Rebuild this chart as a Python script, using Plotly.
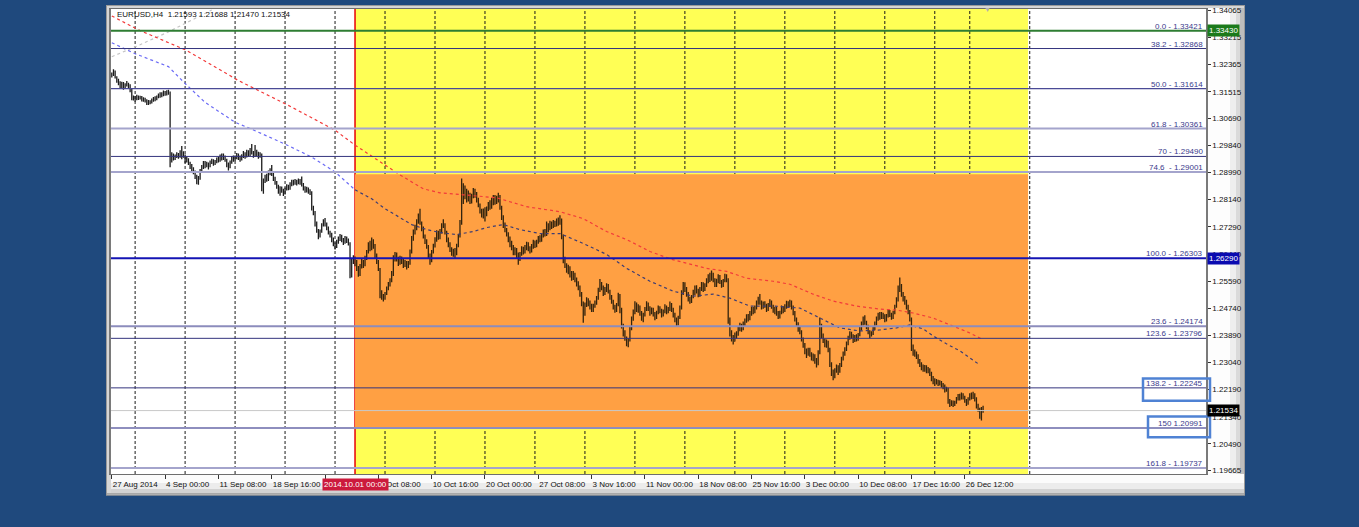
import plotly.graph_objects as go

# ---------------- DATA: EURUSD H4 (price = 1 + pips / 10000) ----------------
first_open = 3200
close_pips = [
    3205, 3215, 3198, 3188, 3180, 3170, 3178, 3165, 3172, 3176, 3168, 3160,
    3130, 3133, 3128, 3136, 3131, 3134, 3126, 3130, 3124, 3115, 3122, 3118,
    3124, 3132, 3127, 3135, 3138, 3144, 3140, 3148, 3145, 3150, 3146, 2945,
    2950, 2942, 2948, 2955, 2950, 2962, 2958, 2950, 2935, 2940, 2928, 2918,
    2910, 2900, 2888, 2870, 2880, 2902, 2915, 2928, 2920, 2926, 2918, 2930,
    2935, 2928, 2932, 2940, 2935, 2948, 2942, 2950, 2938, 2925, 2918, 2930,
    2945, 2938, 2945, 2952, 2946, 2940, 2950, 2958, 2950, 2962, 2955, 2968,
    2960, 2952, 2966, 2958, 2950, 2956, 2855, 2872, 2885, 2878, 2898, 2905,
    2895, 2880, 2868, 2855, 2840, 2850, 2842, 2836, 2848, 2856, 2850, 2862,
    2870, 2864, 2872, 2866, 2874, 2868, 2862, 2850, 2842, 2848, 2840, 2836,
    2790, 2775, 2740, 2718, 2700, 2715, 2735, 2745, 2738, 2725, 2712, 2705,
    2690, 2675, 2668, 2682, 2690, 2700, 2688, 2682, 2692, 2686, 2678, 2580,
    2622, 2630, 2618, 2600, 2585, 2605, 2620, 2612, 2630, 2650, 2672, 2660,
    2680, 2670, 2640, 2620, 2598, 2520, 2510, 2505, 2520, 2535, 2548, 2560,
    2580, 2630, 2645, 2628, 2615, 2630, 2622, 2610, 2618, 2605, 2615, 2650,
    2690, 2712, 2725, 2745, 2760, 2740, 2725, 2700, 2685, 2668, 2640, 2625,
    2650, 2670, 2690, 2710, 2695, 2715, 2730, 2735, 2712, 2690, 2675, 2660,
    2648, 2655, 2645, 2670, 2700, 2740, 2810, 2825, 2840, 2815, 2830, 2808,
    2825, 2840, 2830, 2815, 2798, 2780, 2768, 2778, 2770, 2785, 2800, 2790,
    2812, 2805, 2820, 2812, 2825, 2790, 2760, 2735, 2720, 2705, 2690, 2680,
    2665, 2650, 2660, 2640, 2628, 2645, 2660, 2650, 2665, 2675, 2660, 2652,
    2668, 2680, 2672, 2682, 2695, 2688, 2700, 2712, 2705, 2730, 2722, 2738,
    2730, 2742, 2735, 2748, 2740, 2752, 2700, 2630, 2610, 2595, 2600, 2580,
    2570, 2582, 2565, 2550, 2540, 2520, 2490, 2470, 2485, 2500, 2492, 2480,
    2470, 2482, 2490, 2505, 2530, 2550, 2538, 2520, 2530, 2545, 2528, 2510,
    2495, 2480, 2468, 2485, 2515, 2470, 2420, 2400, 2380, 2365, 2375, 2410,
    2440, 2462, 2485, 2470, 2478, 2458, 2442, 2455, 2470, 2488, 2475, 2460,
    2470, 2458, 2445, 2460, 2475, 2468, 2455, 2462, 2478, 2465, 2472, 2485,
    2470, 2455, 2440, 2425, 2445, 2475, 2520, 2545, 2535, 2520, 2505, 2495,
    2510, 2525, 2540, 2530, 2515, 2535, 2550, 2535, 2545, 2560, 2575, 2565,
    2580, 2562, 2548, 2560, 2572, 2558, 2545, 2560, 2575, 2562, 2440, 2400,
    2380, 2370, 2385, 2395, 2410, 2420, 2408, 2425, 2435, 2448, 2440, 2458,
    2470, 2462, 2475, 2490, 2500, 2492, 2478, 2490, 2482, 2470, 2485, 2495,
    2480, 2465, 2472, 2460, 2448, 2460, 2475, 2468, 2480, 2490, 2482, 2495,
    2478, 2460, 2440, 2425, 2410, 2400, 2378, 2360, 2340, 2330, 2345, 2330,
    2318, 2325, 2310, 2300, 2335, 2420, 2390, 2372, 2360, 2370, 2345, 2300,
    2275, 2265, 2280, 2290, 2278, 2295, 2315, 2330, 2345, 2362, 2380, 2395,
    2385, 2372, 2385, 2378, 2390, 2408, 2425, 2440, 2430, 2418, 2400, 2390,
    2395, 2410, 2425, 2440, 2452, 2445, 2455, 2448, 2438, 2450, 2462, 2455,
    2445, 2460, 2478, 2500, 2530, 2545, 2520, 2505, 2495, 2480, 2462, 2440,
    2350, 2340, 2332, 2325, 2310, 2300, 2292, 2285, 2290, 2278, 2282, 2270,
    2255, 2248, 2240, 2245, 2238, 2242, 2235, 2228, 2218, 2222, 2185, 2175,
    2180, 2172, 2178, 2190, 2200, 2192, 2205, 2195, 2185, 2175, 2190, 2202,
    2196, 2205, 2190, 2170, 2158, 2140, 2159.3, 2153.4,
]
high_pips = [
    3212, 3222, 3218, 3200, 3192, 3184, 3183, 3182, 3178, 3185, 3180, 3175,
    3148, 3140, 3138, 3142, 3140, 3139, 3138, 3134, 3133, 3128, 3126, 3125,
    3130, 3135, 3137, 3140, 3146, 3150, 3150, 3155, 3154, 3156, 3158, 3152,
    2962, 2958, 2955, 2962, 2960, 2968, 2982, 2965, 2955, 2948, 2943, 2932,
    2925, 2915, 2905, 2892, 2888, 2910, 2922, 2935, 2935, 2932, 2930, 2936,
    2942, 2940, 2938, 2946, 2948, 2955, 2958, 2958, 2952, 2942, 2930, 2936,
    2950, 2952, 2952, 2960, 2958, 2952, 2956, 2966, 2962, 2970, 2968, 2975,
    2988, 2966, 2985, 2970, 2964, 2962, 2958, 2880, 2892, 2895, 2905, 2912,
    2922, 2900, 2885, 2872, 2860, 2856, 2855, 2848, 2852, 2862, 2860, 2868,
    2876, 2876, 2878, 2876, 2880, 2878, 2886, 2866, 2856, 2854, 2852, 2846,
    2840, 2795, 2778, 2745, 2722, 2720, 2740, 2752, 2756, 2742, 2730, 2716,
    2710, 2695, 2680, 2688, 2698, 2706, 2704, 2694, 2700, 2698, 2692, 2680,
    2628, 2640, 2636, 2625, 2606, 2612, 2628, 2625, 2638, 2656, 2680, 2685,
    2695, 2690, 2675, 2645, 2625, 2600, 2530, 2518, 2525, 2542, 2556, 2568,
    2590, 2640, 2650, 2648, 2635, 2638, 2636, 2628, 2625, 2622, 2622, 2658,
    2700, 2720, 2735, 2752, 2770, 2785, 2745, 2730, 2705, 2690, 2672, 2645,
    2656, 2676, 2696, 2718, 2716, 2722, 2740, 2752, 2740, 2716, 2695, 2680,
    2665, 2660, 2662, 2676, 2706, 2750, 2880, 2865, 2858, 2848, 2842, 2835,
    2832, 2850, 2848, 2838, 2820, 2802, 2785, 2786, 2790, 2792, 2806, 2812,
    2820, 2828, 2828, 2826, 2835, 2828, 2795, 2765, 2742, 2725, 2712, 2698,
    2685, 2672, 2665, 2662, 2648, 2650, 2668, 2666, 2672, 2682, 2680, 2668,
    2675, 2688, 2686, 2688, 2700, 2702, 2708, 2720, 2722, 2745, 2740, 2748,
    2745, 2750, 2748, 2755, 2758, 2765, 2755, 2705, 2635, 2615, 2610, 2605,
    2590, 2590, 2585, 2570, 2558, 2545, 2525, 2495, 2492, 2508, 2505, 2498,
    2488, 2488, 2498, 2512, 2538, 2565, 2556, 2545, 2540, 2552, 2550, 2532,
    2515, 2500, 2485, 2490, 2522, 2518, 2475, 2425, 2405, 2385, 2380, 2418,
    2448, 2470, 2496, 2492, 2486, 2482, 2465, 2460, 2478, 2496, 2492, 2480,
    2476, 2475, 2462, 2466, 2482, 2480, 2472, 2470, 2486, 2482, 2478, 2495,
    2490, 2475, 2460, 2445, 2450, 2482, 2530, 2556, 2555, 2540, 2525, 2510,
    2515, 2532, 2545, 2546, 2535, 2540, 2556, 2555, 2552, 2568, 2580, 2585,
    2592, 2585, 2568, 2566, 2580, 2578, 2562, 2565, 2582, 2580, 2568, 2445,
    2405, 2390, 2398, 2402, 2418, 2428, 2425, 2432, 2442, 2455, 2456, 2465,
    2478, 2478, 2482, 2498, 2510, 2518, 2498, 2495, 2496, 2488, 2490, 2502,
    2498, 2485, 2478, 2478, 2465, 2466, 2482, 2480, 2486, 2497, 2496, 2500,
    2498, 2482, 2465, 2445, 2430, 2415, 2405, 2382, 2365, 2348, 2350, 2350,
    2336, 2332, 2330, 2318, 2342, 2445, 2425, 2395, 2378, 2376, 2372, 2350,
    2305, 2282, 2286, 2298, 2295, 2302, 2322, 2338, 2352, 2370, 2388, 2402,
    2400, 2392, 2390, 2392, 2396, 2415, 2432, 2448, 2452, 2435, 2422, 2405,
    2402, 2416, 2432, 2448, 2460, 2462, 2462, 2460, 2455, 2456, 2470, 2468,
    2460, 2466, 2485, 2508, 2545, 2570, 2550, 2525, 2512, 2500, 2485, 2468,
    2445, 2360, 2345, 2338, 2330, 2315, 2305, 2298, 2296, 2295, 2290, 2286,
    2275, 2262, 2255, 2252, 2250, 2248, 2246, 2240, 2235, 2228, 2225, 2190,
    2186, 2185, 2184, 2196, 2205, 2206, 2210, 2208, 2200, 2190, 2195, 2208,
    2210, 2212, 2208, 2195, 2175, 2162, 2165, 2168.8,
]
low_pips = [
    3196, 3201, 3193, 3180, 3172, 3163, 3160, 3158, 3161, 3168, 3160, 3150,
    3125, 3124, 3120, 3125, 3126, 3127, 3121, 3120, 3118, 3110, 3110, 3112,
    3115, 3120, 3122, 3125, 3131, 3133, 3134, 3137, 3139, 3140, 3142, 2915,
    2930, 2936, 2938, 2944, 2942, 2945, 2940, 2945, 2928, 2930, 2922, 2910,
    2902, 2893, 2878, 2862, 2860, 2876, 2898, 2910, 2912, 2915, 2908, 2915,
    2925, 2920, 2922, 2928, 2930, 2932, 2936, 2938, 2932, 2915, 2905, 2912,
    2926, 2932, 2934, 2940, 2938, 2932, 2936, 2944, 2942, 2946, 2948, 2950,
    2955, 2945, 2948, 2950, 2942, 2945, 2840, 2832, 2866, 2870, 2872, 2890,
    2888, 2872, 2860, 2848, 2832, 2826, 2835, 2825, 2830, 2842, 2843, 2845,
    2856, 2858, 2860, 2858, 2862, 2860, 2855, 2842, 2835, 2836, 2832, 2828,
    2780, 2765, 2730, 2710, 2690, 2695, 2710, 2730, 2730, 2718, 2705, 2695,
    2680, 2668, 2658, 2662, 2676, 2684, 2680, 2672, 2676, 2678, 2670, 2568,
    2570, 2612, 2605, 2590, 2572, 2575, 2598, 2600, 2605, 2625, 2645, 2652,
    2655, 2660, 2630, 2612, 2590, 2505, 2500, 2495, 2500, 2515, 2530, 2542,
    2555, 2575, 2620, 2620, 2606, 2610, 2612, 2600, 2603, 2595, 2600, 2610,
    2645, 2685, 2705, 2718, 2738, 2735, 2715, 2692, 2675, 2660, 2630, 2610,
    2618, 2645, 2664, 2682, 2688, 2690, 2708, 2725, 2705, 2680, 2665, 2650,
    2638, 2635, 2630, 2640, 2665, 2695, 2735, 2800, 2815, 2805, 2808, 2800,
    2802, 2818, 2820, 2805, 2790, 2770, 2758, 2755, 2745, 2762, 2778, 2782,
    2785, 2796, 2798, 2800, 2805, 2782, 2750, 2725, 2712, 2698, 2680, 2665,
    2655, 2640, 2640, 2630, 2610, 2622, 2638, 2642, 2645, 2655, 2652, 2645,
    2648, 2660, 2662, 2665, 2676, 2680, 2682, 2695, 2698, 2700, 2712, 2718,
    2722, 2725, 2728, 2730, 2732, 2735, 2690, 2615, 2600, 2585, 2580, 2570,
    2560, 2562, 2555, 2542, 2530, 2510, 2480, 2428, 2450, 2478, 2480, 2470,
    2462, 2462, 2475, 2485, 2500, 2525, 2530, 2512, 2515, 2525, 2520, 2500,
    2488, 2470, 2460, 2462, 2480, 2458, 2410, 2385, 2372, 2355, 2352, 2370,
    2405, 2435, 2455, 2462, 2460, 2450, 2435, 2430, 2448, 2465, 2465, 2450,
    2455, 2448, 2436, 2440, 2455, 2458, 2445, 2448, 2458, 2455, 2458, 2465,
    2462, 2445, 2430, 2416, 2420, 2440, 2470, 2515, 2525, 2510, 2495, 2488,
    2490, 2505, 2515, 2520, 2508, 2510, 2528, 2525, 2528, 2540, 2552, 2556,
    2560, 2555, 2540, 2540, 2552, 2550, 2538, 2540, 2555, 2555, 2425, 2385,
    2370, 2360, 2372, 2378, 2388, 2402, 2400, 2405, 2418, 2428, 2432, 2436,
    2450, 2455, 2458, 2470, 2485, 2485, 2470, 2472, 2475, 2462, 2465, 2478,
    2472, 2460, 2455, 2450, 2440, 2442, 2455, 2458, 2462, 2472, 2475, 2478,
    2470, 2452, 2432, 2418, 2400, 2392, 2370, 2350, 2330, 2318, 2325, 2322,
    2310, 2308, 2300, 2288, 2295, 2330, 2380, 2365, 2352, 2350, 2336, 2290,
    2262, 2248, 2255, 2272, 2265, 2272, 2290, 2310, 2325, 2340, 2358, 2375,
    2378, 2365, 2368, 2370, 2372, 2386, 2404, 2420, 2422, 2408, 2392, 2380,
    2385, 2390, 2405, 2420, 2435, 2438, 2440, 2440, 2430, 2432, 2445, 2446,
    2438, 2440, 2455, 2475, 2495, 2525, 2510, 2495, 2485, 2470, 2455, 2432,
    2340, 2325, 2322, 2315, 2300, 2290, 2280, 2275, 2275, 2270, 2270, 2262,
    2245, 2236, 2230, 2235, 2230, 2232, 2226, 2220, 2210, 2212, 2175, 2165,
    2168, 2165, 2168, 2175, 2185, 2185, 2188, 2188, 2178, 2168, 2172, 2185,
    2188, 2190, 2182, 2160, 2150, 2128, 2122, 2147.0,
]

symbol = "EURUSD,H4"
split_bar = 146          # 2014.10.01 00:00 (vertical red line)
box_end_bar = 550        # right edge of yellow/orange rectangles

x_tick_bars = [0, 32, 64, 96, 128, 160, 192, 224, 256, 288, 320, 352, 384, 416, 448, 480, 512]
# the 26 Sep label is fully hidden under the red time marker in the reference
x_tick_labels = ["27 Aug 2014", "4 Sep 00:00", "11 Sep 08:00", "18 Sep 16:00", "",
                 "2 Oct 08:00", "10 Oct 16:00", "20 Oct 00:00", "27 Oct 08:00", "3 Nov 16:00",
                 "11 Nov 00:00", "18 Nov 08:00", "25 Nov 16:00", "3 Dec 00:00", "10 Dec 08:00",
                 "17 Dec 16:00", "26 Dec 12:00"]
grid_bars = [14, 44, 74, 104, 134, 164, 194, 224, 254, 284, 314, 344, 374, 404, 434, 464, 494, 515, 551]

y_tick_vals = [1.34065, 1.33215, 1.32365, 1.31515, 1.30690, 1.29840, 1.28990, 1.28140, 1.27290,
               1.26440, 1.25590, 1.24740, 1.23890, 1.23040, 1.22190, 1.21340, 1.20490, 1.19665]

fib_levels = [1.33421, 1.32868, 1.31614, 1.30361, 1.29490, 1.29001, 1.26303,
              1.24174, 1.23796, 1.22245, 1.20991, 1.19737]
fib_texts = ["0.0 - 1.33421", "38.2 - 1.32868", "50.0 - 1.31614", "61.8 - 1.30361",
             "70 - 1.29490", "74.6  - 1.29001", "100.0 - 1.26303", "23.6 - 1.24174",
             "123.6 - 1.23796", "138.2 - 1.22245", "150 1.20991", "161.8 - 1.19737"]
fib_colors = ["#2E7D32", "#34347E", "#4A4A96", "#A4A4CC", "#34347E", "#A4A4CC", "#1414B4",
              "#8C8CBC", "#34347E", "#34347E", "#8E8EBE", "#A4A4CC"]
fib_widths = [2, 1, 1.2, 2, 1, 2, 2, 2, 1, 1, 2, 2]

orange_top = 1.2893
bid_price = 1.21534
price_boxes = [(1.33430, "#1B7A1B"), (1.26290, "#0A0AB0"), (1.21534, "#000000")]
highlight_fib = [9, 10]              # 138.2 and 150 labels are boxed
highlight_pad = [(0.0040, 0.0029), (0.0029, 0.0036)]
highlight_left_px = [1143, 1148]

ma_red_bars = [0, 16, 44, 76, 106, 134, 146, 164, 173, 187, 197, 211, 231, 249, 269, 283, 297,
               309, 323, 336, 357, 369, 381, 397, 407, 421, 433, 447, 461, 471, 481, 493, 505, 515, 522]
ma_red_vals = [1.33888, 1.33452, 1.32830, 1.31866, 1.31088, 1.30311, 1.29844, 1.29222, 1.28911,
               1.28475, 1.28351, 1.28289, 1.28196, 1.27916, 1.27760, 1.27543, 1.27138, 1.26889,
               1.26516, 1.26267, 1.25987, 1.25894, 1.25676, 1.25583, 1.25490, 1.25178, 1.24961,
               1.24805, 1.24712, 1.24681, 1.24588, 1.24432, 1.24183, 1.23965, 1.23779]
ma_blue_bars = [0, 14, 34, 44, 56, 74, 84, 104, 120, 134, 146, 156, 164, 180, 189, 197, 207, 217,
                225, 235, 245, 257, 269, 283, 297, 309, 323, 337, 349, 361, 371, 383, 397, 413,
                425, 437, 449, 461, 471, 479, 487, 493, 501, 509, 521]
ma_blue_vals = [1.33048, 1.32706, 1.32301, 1.31772, 1.31182, 1.30559, 1.30342, 1.29875, 1.29471,
                1.29004, 1.28444, 1.28164, 1.27853, 1.27356, 1.27200, 1.27107, 1.27045, 1.27138,
                1.27263, 1.27356, 1.27200, 1.27076, 1.27076, 1.26765, 1.26423, 1.25988, 1.25583,
                1.25272, 1.25116, 1.25179, 1.25054, 1.24805, 1.24805, 1.24743, 1.24432, 1.24121,
                1.24027, 1.24059, 1.24121, 1.24214, 1.24090, 1.23872, 1.23623, 1.23405, 1.22966]
ma_grey_bars = [0, 17, 34, 47, 60]
ma_grey_vals = [1.32612, 1.32986, 1.33390, 1.33732, 1.34074]

# ---------------- geometry ----------------
W, H = 1359, 527
PL, PR, PT, PB = 111, 1206, 6, 474
X_RANGE = [-0.48, 656.8]
Y_RANGE = [1.19549, 1.34105]
FONT = "Liberation Sans"


def pxx(px):
    return (px - PL) / (PR - PL)


def pxy(py):
    return (PB - py) / (PB - PT)


def pyp(price):
    return (price - Y_RANGE[0]) / (Y_RANGE[1] - Y_RANGE[0])


# ---------------- build OHLC ----------------
n = len(close_pips)
idx = list(range(n))
close = [1 + v / 10000 for v in close_pips]
opens = [1 + first_open / 10000] + close[:-1]
high = [max(1 + h / 10000, o, c) for h, o, c in zip(high_pips, opens, close)]
low = [min(1 + l / 10000, o, c) for l, o, c in zip(low_pips, opens, close)]

fig = go.Figure()
for a, b, col in [(0, split_bar, "#1C1C1C"), (split_bar, n, "#33240E")]:
    fig.add_trace(go.Ohlc(
        x=idx[a:b], open=opens[a:b], high=high[a:b], low=low[a:b], close=close[a:b],
        increasing=dict(line=dict(color=col, width=1.3)),
        decreasing=dict(line=dict(color=col, width=1.3)),
        tickwidth=0.35, hoverinfo="skip", showlegend=False))

dash = "3px,3px"
fig.add_trace(go.Scatter(x=ma_grey_bars, y=ma_grey_vals, mode="lines", hoverinfo="skip",
                         line=dict(color="#C4C4C4", width=1.2, dash=dash), showlegend=False))
fig.add_trace(go.Scatter(x=ma_red_bars, y=ma_red_vals, mode="lines", hoverinfo="skip",
                         line=dict(color="#F23A3A", width=1.2, dash=dash), showlegend=False))
k = ma_blue_bars.index(split_bar)
fig.add_trace(go.Scatter(x=ma_blue_bars[:k + 1], y=ma_blue_vals[:k + 1], mode="lines",
                         hoverinfo="skip", line=dict(color="#6B6BF5", width=1.2, dash=dash),
                         showlegend=False))
fig.add_trace(go.Scatter(x=ma_blue_bars[k:], y=ma_blue_vals[k:], mode="lines",
                         hoverinfo="skip", line=dict(color="#3C3C74", width=1.2, dash=dash),
                         showlegend=False))

# ---------------- shapes ----------------
shapes = []


def prect(x0, y0, x1, y1, fill, layer="below"):
    shapes.append(dict(type="rect", xref="paper", yref="paper", x0=pxx(x0), x1=pxx(x1),
                       y0=pxy(y1), y1=pxy(y0), fillcolor=fill, line=dict(width=0), layer=layer))


# panel frame
prect(106, 2, 1245, 496, "#9A9A9A")
prect(107, 3, 1244, 495, "#D6D6D6")
prect(1206, 5, 1230, 474, "#FDFDFD")
prect(1230, 5, 1236, 474, "#EEEEEE")
prect(1236, 5, 1240, 474, "#DADADA")
prect(1240, 5, 1244, 474, "#BDBDBD")
prect(111, 474, 1244, 483, "#FBFBFB")
prect(111, 483, 1244, 489, "#ECECEC")
prect(111, 489, 1244, 493, "#D2D2D2")
prect(107, 493, 1244, 495, "#A8A8A8")
# plot background
prect(PL, PT, PR, PB, "#FFFFFF")

# yellow / orange zones
shapes.append(dict(type="rect", xref="x", yref="paper", x0=split_bar, x1=box_end_bar, y0=0, y1=1,
                   fillcolor="#FFFF55", line=dict(width=0), layer="below"))
shapes.append(dict(type="rect", xref="x", yref="y", x0=split_bar, x1=box_end_bar,
                   y0=fib_levels[10], y1=orange_top,
                   fillcolor="#FFA043", line=dict(width=0), layer="below"))
# weekly dashed grid
for g in grid_bars:
    shapes.append(dict(type="line", xref="x", yref="paper", x0=g, x1=g, y0=0, y1=1,
                       line=dict(color="#1A1A1A", width=1, dash="3px,2px"), layer="below"))
# red vertical line
shapes.append(dict(type="line", xref="x", yref="paper", x0=split_bar, x1=split_bar, y0=0, y1=1,
                   line=dict(color="#E81010", width=1.6), layer="below"))
# bid line
shapes.append(dict(type="line", xref="paper", yref="y", x0=0, x1=1, y0=bid_price, y1=bid_price,
                   line=dict(color="#C8C8C8", width=1), layer="above"))
# fibonacci levels
for lv, col, w in zip(fib_levels, fib_colors, fib_widths):
    shapes.append(dict(type="line", xref="paper", yref="y", x0=0, x1=1, y0=lv, y1=lv,
                       line=dict(color=col, width=w), layer="above"))
# highlight boxes
for fi, (dn, up), lx in zip(highlight_fib, highlight_pad, highlight_left_px):
    lv = fib_levels[fi]
    shapes.append(dict(type="rect", xref="paper", yref="paper", x0=pxx(lx), x1=pxx(1210),
                       y0=pyp(lv - dn), y1=pyp(lv + up),
                       line=dict(color="#4F82D4", width=2.5), fillcolor="rgba(0,0,0,0)",
                       layer="above"))

# ---------------- annotations ----------------
ann = []
for lv, txt in zip(fib_levels, fib_texts):
    ann.append(dict(x=1, xref="paper", xanchor="right", xshift=-1, y=lv, yref="y",
                    yanchor="bottom", yshift=-2, text=txt, showarrow=False,
                    font=dict(family=FONT, size=8, color="#3A3A8C")))
for price, bg in price_boxes:
    ann.append(dict(x=1, xref="paper", xanchor="left", xshift=1, y=price, yref="y",
                    yanchor="middle", text=f"{price:.5f}", showarrow=False, bgcolor=bg,
                    borderpad=1, font=dict(family=FONT, size=8, color="#FFFFFF")))
ann.append(dict(x=split_bar, xref="x", xanchor="center", y=pxy(485), yref="paper",
                yanchor="middle", text="2014.10.01 00:00", showarrow=False, bgcolor="#CC1A3C",
                borderpad=1, font=dict(family=FONT, size=8, color="#FFFFFF")))
header = "%s  %.5f %.5f %.5f %.5f" % (symbol, opens[-1], high[-1], low[-1], close[-1])
ann.append(dict(x=pxx(115), xref="paper", xanchor="left", y=pxy(12), yref="paper",
                yanchor="middle", text=header, showarrow=False,
                font=dict(family=FONT, size=8, color="#111111")))
ann.append(dict(x=pxx(987), xref="paper", xanchor="center", y=1, yref="paper",
                yanchor="middle", text="▼", showarrow=False,
                font=dict(family=FONT, size=7, color="#B0B0B0")))

fig.update_layout(
    width=W, height=H,
    margin=dict(l=PL, r=W - PR, t=PT, b=H - PB, pad=0),
    paper_bgcolor="#1F497D", plot_bgcolor="rgba(0,0,0,0)",
    shapes=shapes, annotations=ann, showlegend=False,
    xaxis=dict(range=X_RANGE, rangeslider=dict(visible=False), tickmode="array",
               tickvals=x_tick_bars, ticktext=x_tick_labels, ticks="outside", ticklen=4,
               tickangle=0, tickcolor="#333333", ticklabelposition="outside right",
               ticklabelstandoff=2,
               tickfont=dict(family=FONT, size=8, color="#111111"),
               showgrid=False, zeroline=False, showline=True, linecolor="#6E6E6E",
               linewidth=1, mirror=True, fixedrange=True),
    yaxis=dict(range=Y_RANGE, side="right", tickmode="array", tickvals=y_tick_vals,
               ticktext=[f"{v:.5f}" for v in y_tick_vals], ticks="outside", ticklen=3,
               tickcolor="#333333", tickfont=dict(family=FONT, size=8, color="#111111"),
               showgrid=False, zeroline=False, showline=True, linecolor="#7A7A7A",
               linewidth=1.5, mirror=True, fixedrange=True),
    font=dict(family=FONT, size=8),
)

fig.write_html("out.html", config={"displayModeBar": False},
               post_script="document.body.style.margin='0';document.body.style.overflow='hidden';")
